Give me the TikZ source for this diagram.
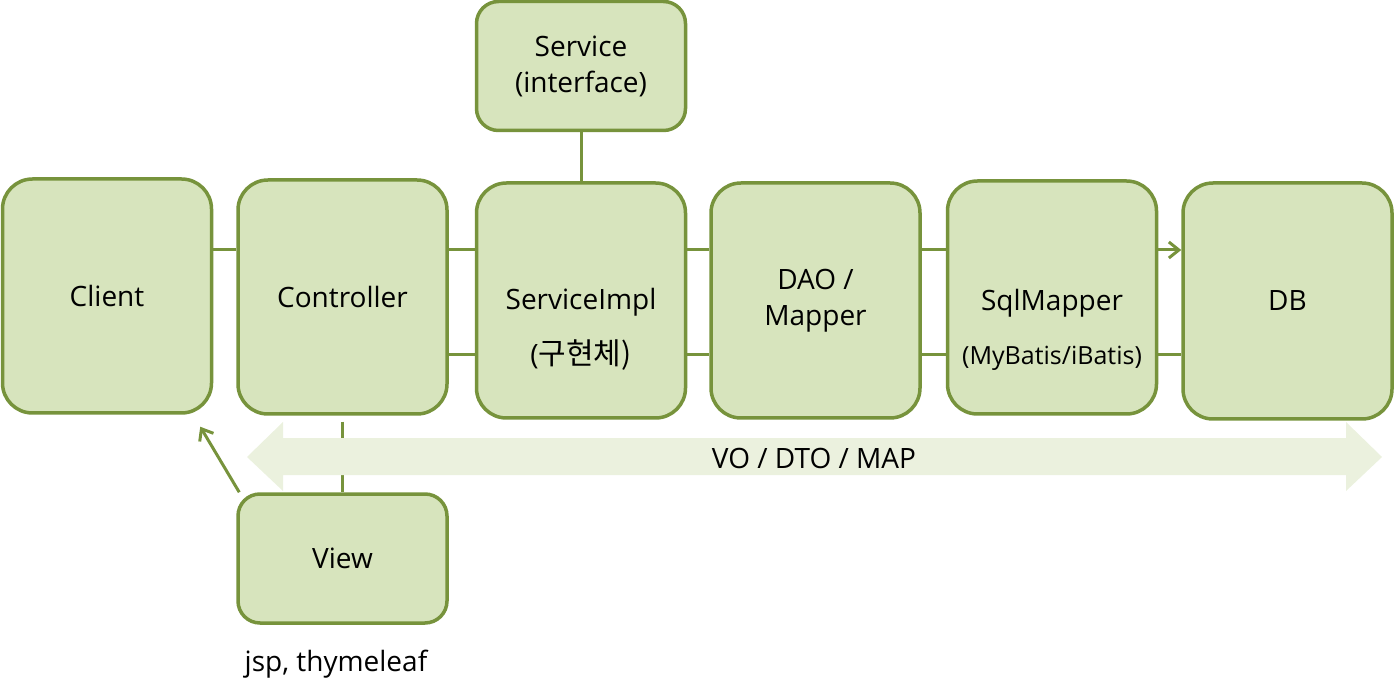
\documentclass[tikz,border=0pt]{standalone}
\usepackage{fontspec}
\setmainfont{Open Sans}
\newfontfamily\krfont[Scale=1.07]{Noto Sans CJK KR}
\usetikzlibrary{arrows.meta}
\definecolor{boxfill}{HTML}{D7E4BD}
\definecolor{boxline}{HTML}{77933C}
\definecolor{vofill}{HTML}{EBF1DE}

\begin{document}
\begin{tikzpicture}[x=1pt,y=-1pt,
  layer/.style={draw=boxline, fill=boxfill, line width=3.5pt, rounded corners=30pt,
    minimum width=209pt, minimum height=234pt, inner sep=0pt, align=center,
    font=\fontsize{28}{36}\selectfont},
  flat/.style={minimum height=129pt, rounded corners=22pt},
  caption/.style={align=center, font=\fontsize{28}{36}\selectfont},
  link/.style={draw=boxline, line width=3pt},
  tip/.style={-{Straight Barb[length=10pt,width=16pt]}}]
\useasboundingbox (0,0) rectangle (1395,700);
% coordinates of the two data lines
\coordinate (upper) at (0,250);
\coordinate (lower) at (0,355);
% boxes
\node[layer] (client) at (107,296) {Client};
\node[layer] (ctrl) at (342.5,297) {Controller};
\node[layer, flat] (svc) at (581,66) {Service\\(interface)};
\node[layer, minimum height=235pt,
  label={[caption, yshift=-29pt]center:ServiceImpl\\[19pt](\krfont 구현체)}] (impl) at (581,300.5) {};
\node[layer, minimum height=235pt] (dao) at (815.5,300.5) {DAO /\\Mapper};
\node[layer, minimum height=233pt,
  label={[caption, yshift=-32pt]center:SqlMapper\\[18pt]{\fontsize{25}{32}\selectfont(MyBatis/iBatis)}}] (mapper) at (1052,297.5) {};
\node[layer, minimum height=236pt] (db) at (1287.5,301) {DB};
\node[layer, flat] (view) at (342.5,558.5) {View};
\node[caption] (tech) at (336,664) {jsp,~thymeleaf};
% connectors
\draw[link] (client.east |- upper) -- (ctrl.west |- upper);
\foreach \a/\b in {ctrl/impl, impl/dao, dao/mapper}{
  \draw[link] (\a.east |- upper) -- (\b.west |- upper);
  \draw[link] (\a.east |- lower) -- (\b.west |- lower);
}
\draw[link, tip] (mapper.east |- upper) -- (db.west |- upper);
\draw[link] (mapper.east |- lower) -- (db.west |- lower);
\draw[link] (svc.south) -- (impl.north);
\draw[link] ([yshift=-6pt]ctrl.south) -- (view.north);
% data objects arrow
\fill[vofill] (247,457) -- (283,422) -- (283,438) -- (1346,438) -- (1346,422)
  -- (1382,457) -- (1346,491) -- (1346,475) -- (283,475) -- (283,491) -- cycle;
\node[caption] (vo) at (814,458) {VO / DTO / MAP};
\draw[link, tip] ([xshift=3pt]view.north west) -- ([shift={(-13pt,-12pt)}]client.south east);
\end{tikzpicture}
\end{document}
